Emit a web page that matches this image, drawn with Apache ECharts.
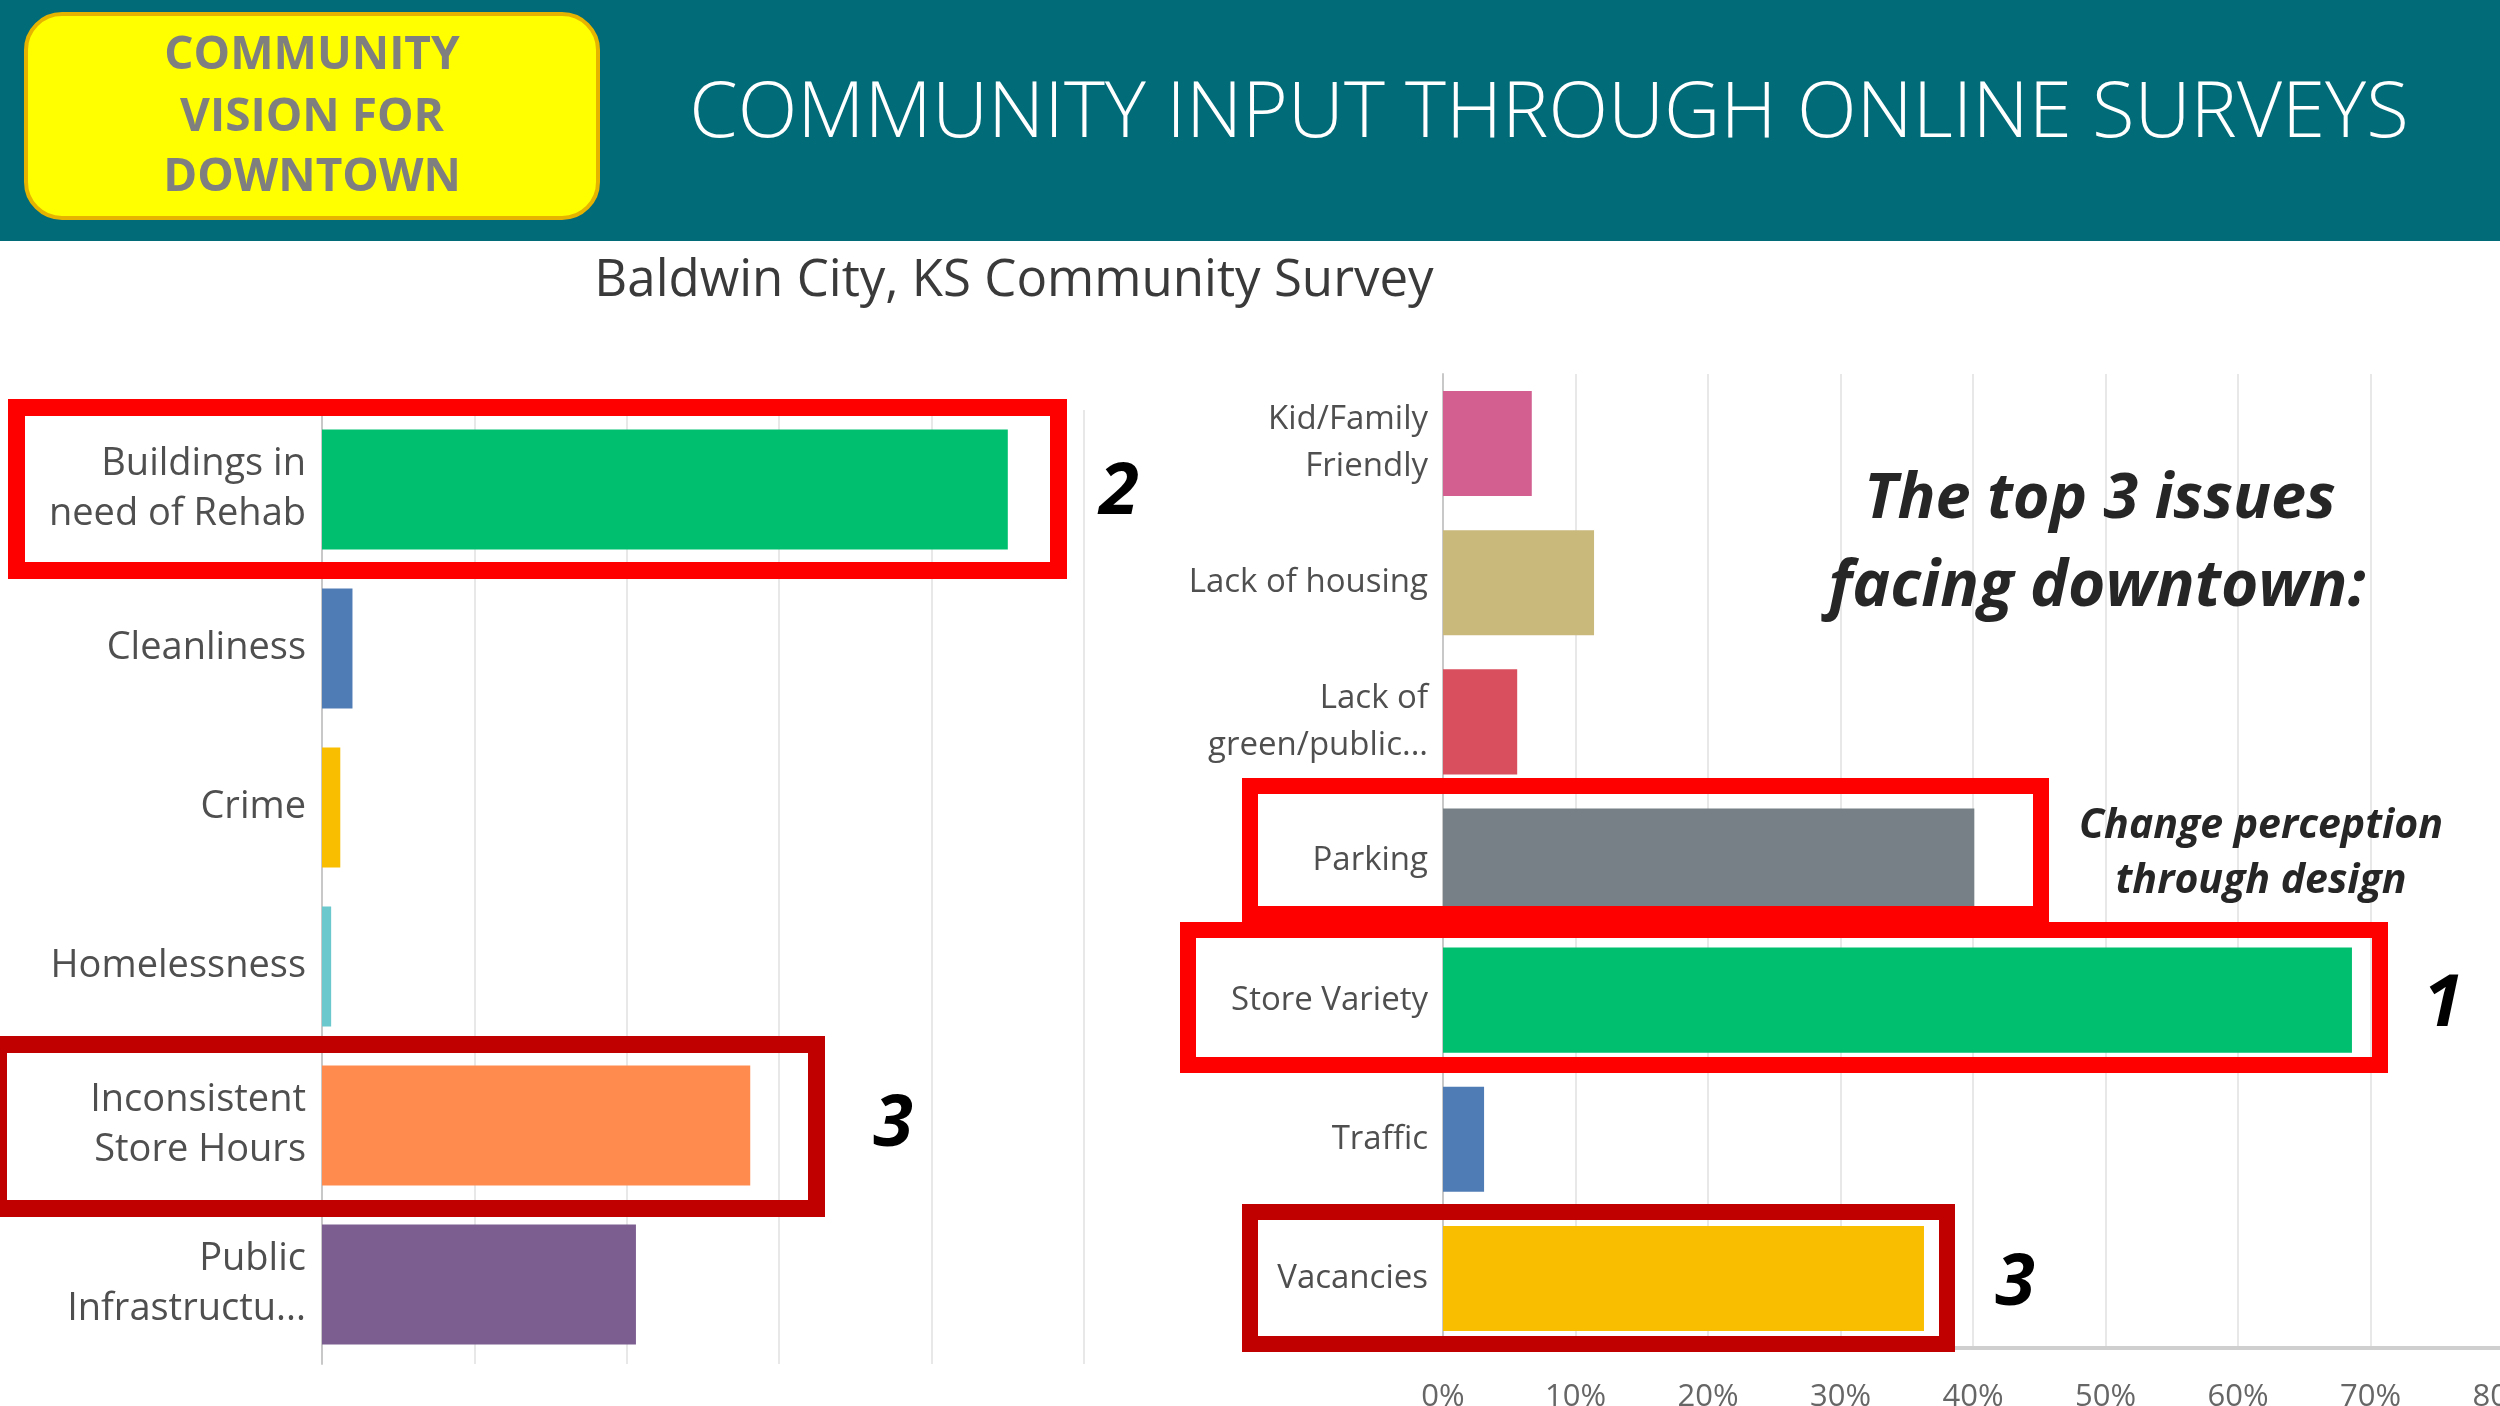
<!DOCTYPE html>
<html>
<head>
<meta charset="utf-8">
<title>Community input through online surveys</title>
<script src="https://cdn.jsdelivr.net/npm/echarts@6/dist/echarts.min.js"></script>
<style>
  html, body { margin: 0; padding: 0; background: #fff; }
  #chart { width: 2500px; height: 1406px; }
</style>
</head>
<body>
<div id="chart"></div>
<script>
// left survey question (issues)
const leftCategories = ['Buildings in\nneed of Rehab', 'Cleanliness', 'Crime', 'Homelessness', 'Inconsistent\nStore Hours', 'Public\nInfrastructu...']
const leftValues = [45, 2.0, 1.2, 0.6, 28.1, 20.6]
const leftColors = ['#00BF6F', '#507CB6', '#F9BE00', '#6BC8CD', '#FF8B4F', '#7D5E90']

// right survey question
const rightCategories = ['Kid/Family\nFriendly', 'Lack of housing', 'Lack of\ngreen/public...', 'Parking', 'Store Variety', 'Traffic', 'Vacancies']
const rightValues = [6.7, 11.4, 5.6, 40.1, 68.6, 3.1, 36.3]
const rightColors = ['#D25F90', '#C9B97B', '#DA4F5E', '#768086', '#00BF6F', '#507CB6', '#F9BE00']

// x axis ticks (percent)
const leftTicks = { min: 0, max: 50, step: 10 }
const rightTicks = { min: 0, max: 80, step: 10 }

const FONT = "'Open Sans', 'Noto Sans', sans-serif"

const chartInstance = echarts.init(document.getElementById('chart'), null, { renderer: 'canvas' })

function toItems(values, colors) {
  return values.map((v, i) => ({ value: v, itemStyle: { color: colors[i] } }))
}

// annotation box helper (outer edges given, stroke drawn inside)
function box(x1, y1, x2, y2, color, lw) {
  return {
    type: 'rect',
    z: 100,
    shape: { x: x1 + lw / 2, y: y1 + lw / 2, width: x2 - x1 - lw, height: y2 - y1 - lw },
    style: { fill: 'none', stroke: color, lineWidth: lw },
  }
}

function label(text, x, y, size, opts = {}) {
  return {
    type: 'text',
    z: 110,
    x, y,
    style: {
      text,
      fill: opts.color || '#000',
      font: `${opts.style || 'normal'} ${opts.weight || 'normal'} ${size}px ${FONT}`,
      align: 'center',
      verticalAlign: 'middle',
    },
  }
}

const option = {
  backgroundColor: '#ffffff',
  animation: false,
  grid: [
    { left: 322, top: 410, width: 762, height: 954, outerBoundsMode: 'none' },
    { left: 1443, top: 374, width: 1060, height: 974, outerBoundsMode: 'none' },
  ],
  xAxis: [
    {
      gridIndex: 0,
      type: 'value',
      min: leftTicks.min, max: leftTicks.max, interval: leftTicks.step,
      axisLabel: { show: false },
      axisLine: { show: false },
      axisTick: { show: false },
      splitLine: { lineStyle: { color: '#e8e8e8', width: 2 } },
    },
    {
      gridIndex: 1,
      type: 'value',
      min: rightTicks.min, max: rightTicks.max, interval: rightTicks.step,
      axisLabel: { formatter: '{value}%', color: '#666', fontSize: 31, fontFamily: FONT, margin: 34 },
      axisLine: { show: true, lineStyle: { color: '#cfcfcf', width: 4 } },
      axisTick: { show: false },
      splitLine: { lineStyle: { color: '#e8e8e8', width: 2 } },
    },
  ],
  yAxis: [
    {
      gridIndex: 0,
      type: 'category',
      inverse: true,
      data: leftCategories,
      axisLine: { show: true, lineStyle: { color: '#c8c8c8', width: 2 } },
      axisTick: { show: false },
      axisLabel: { color: '#4f4f4f', fontSize: 38, fontFamily: FONT, lineHeight: 50, margin: 16, padding: [8, 0, 0, 0] },
    },
    {
      gridIndex: 1,
      type: 'category',
      inverse: true,
      data: rightCategories,
      axisLine: { show: true, lineStyle: { color: '#c8c8c8', width: 2 } },
      axisTick: { show: false },
      axisLabel: { color: '#4f4f4f', fontSize: 33, fontFamily: FONT, lineHeight: 47, margin: 15, padding: [6, 0, 0, 0] },
    },
  ],
  series: [
    {
      type: 'bar',
      xAxisIndex: 0, yAxisIndex: 0,
      data: toItems(leftValues, leftColors),
      barCategoryGap: '24.5%',
    },
    {
      type: 'bar',
      xAxisIndex: 1, yAxisIndex: 1,
      data: toItems(rightValues, rightColors),
      barCategoryGap: '24.5%',
    },
  ],
  graphic: [
    // header band
    { type: 'rect', z: 50, shape: { x: 0, y: 0, width: 2500, height: 241 }, style: { fill: '#016B78' } },
    {
      type: 'rect', z: 51,
      shape: { x: 26, y: 14, width: 572, height: 204, r: 36 },
      style: { fill: '#FFFF00', stroke: '#E6B400', lineWidth: 4 },
    },
    label('COMMUNITY', 312, 56, 46, { weight: 'bold', color: '#7F7F7F' }),
    label('VISION FOR', 312, 118, 46, { weight: 'bold', color: '#7F7F7F' }),
    label('DOWNTOWN', 312, 178, 46, { weight: 'bold', color: '#7F7F7F' }),
    label('COMMUNITY INPUT THROUGH ONLINE SURVEYS', 1549, 115, 78, { weight: '300', color: '#ffffff' }),

    // chart title
    label('Baldwin City, KS Community Survey', 1014, 281, 51, { color: '#3a3a3a' }),

    // highlight boxes
    box(8, 399, 1067, 579, '#FF0000', 17),
    box(-10, 1036, 825, 1217, '#C00000', 17),
    box(1242, 778, 2049, 922, '#FF0000', 16),
    box(1180, 922, 2388, 1073, '#FF0000', 16),
    box(1242, 1204, 1955, 1352, '#C00000', 16),

    // rank numbers
    label('2', 1119, 493, 72, { weight: 'bold', style: 'italic' }),
    label('3', 893, 1125, 72, { weight: 'bold', style: 'italic' }),
    label('1', 2443, 1005, 72, { weight: 'bold', style: 'italic' }),
    label('3', 2015, 1284, 72, { weight: 'bold', style: 'italic' }),

    // notes
    label('The top 3 issues', 2100, 500, 63, { weight: 'bold', style: 'italic', color: '#262626' }),
    label('facing downtown:', 2097, 588, 64, { weight: 'bold', style: 'italic', color: '#262626' }),
    label('Change perception', 2261, 826, 41, { weight: 'bold', style: 'italic', color: '#262626' }),
    label('through design', 2261, 881, 41, { weight: 'bold', style: 'italic', color: '#262626' }),
  ],
}

chartInstance.setOption(option)
</script>
</body>
</html>
